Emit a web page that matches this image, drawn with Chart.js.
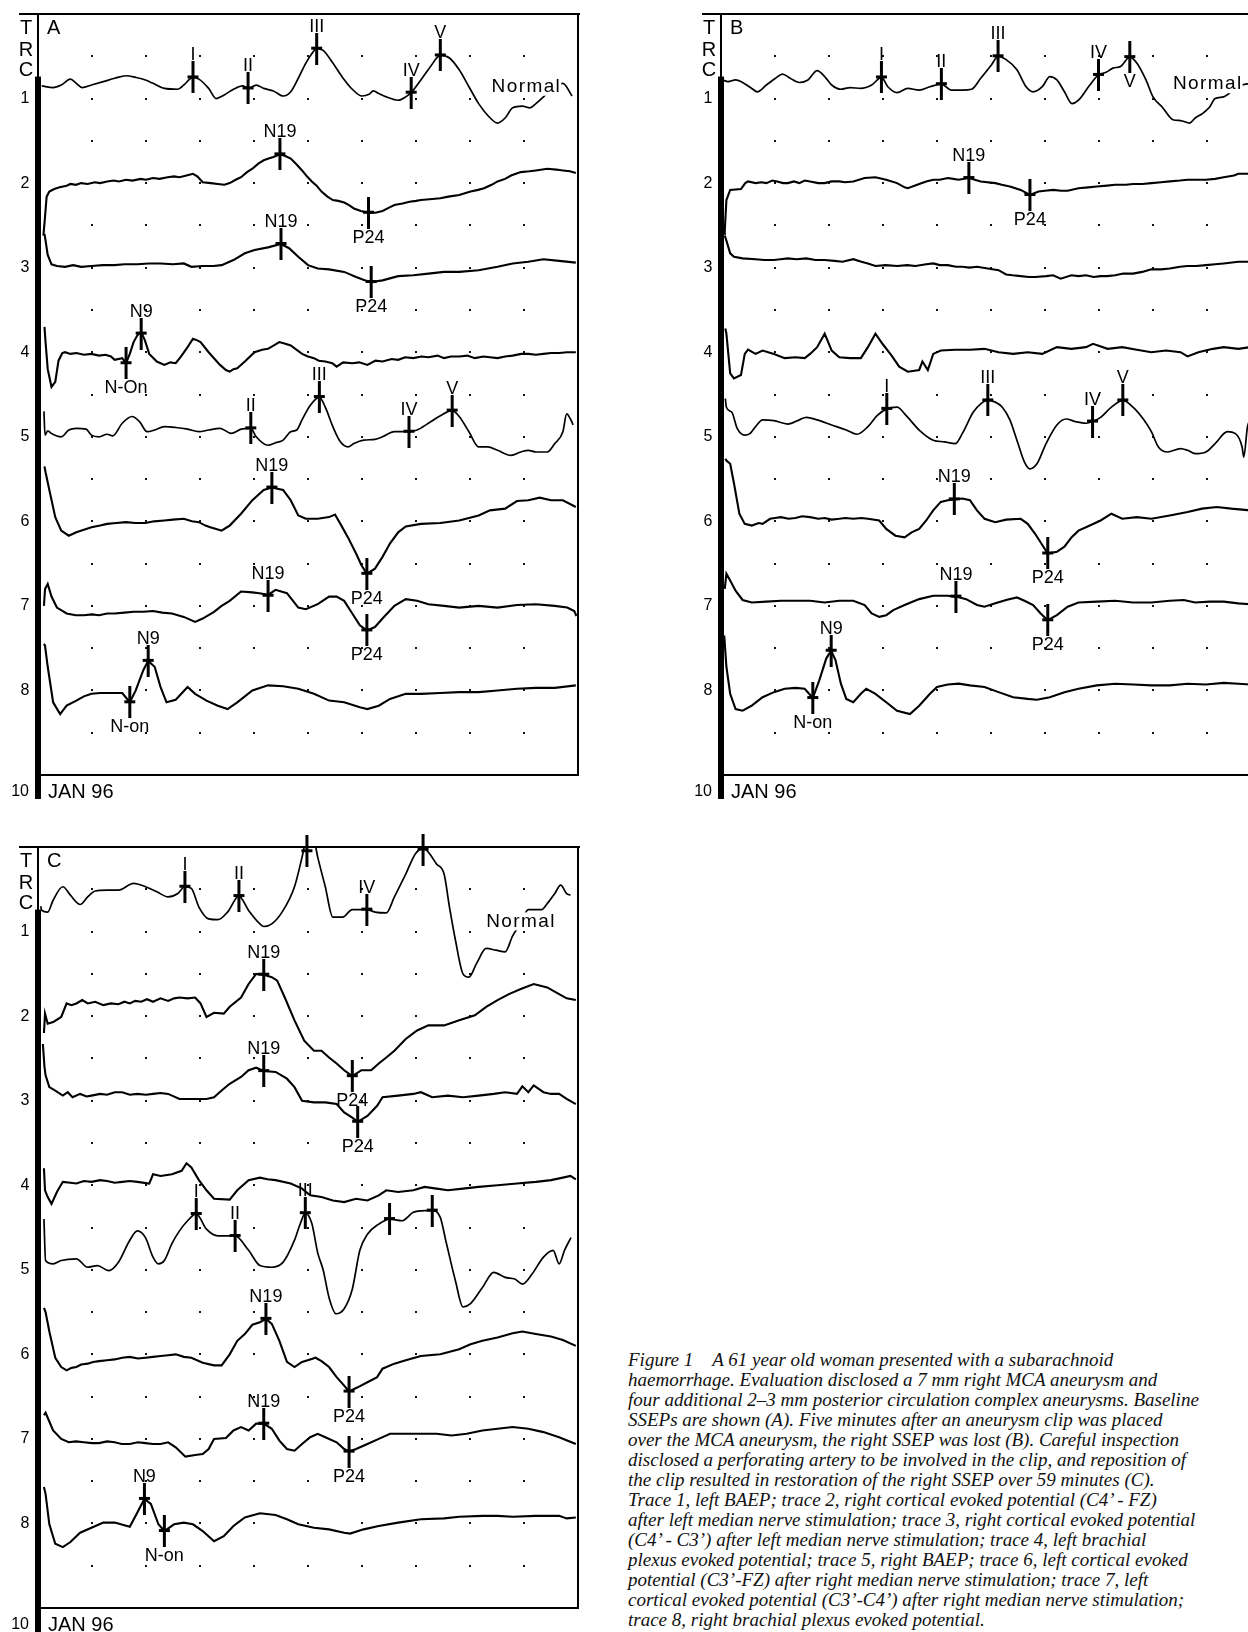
<!DOCTYPE html>
<html><head><meta charset="utf-8">
<script src="https://cdn.jsdelivr.net/npm/chart.js@4/dist/chart.umd.min.js"></script>
<style>
html,body{margin:0;padding:0;background:#fff;width:1248px;height:1632px;overflow:hidden;position:relative}
canvas{position:absolute}
#caption{position:absolute;left:628px;top:1350px;font-family:"Liberation Serif","DejaVu Serif",serif;font-style:italic;font-size:19px;line-height:20px;color:#111;white-space:nowrap}
</style></head><body>
<canvas id="cA" width="600" height="820" style="left:0;top:0"></canvas>
<canvas id="cB" width="600" height="820" style="left:683px;top:0"></canvas>
<canvas id="cC" width="600" height="799" style="left:0;top:833px"></canvas>
<div id="caption">Figure 1&emsp;A 61 year old woman presented with a subarachnoid<br>haemorrhage. Evaluation disclosed a 7 mm right MCA aneurysm and<br>four additional 2–3 mm posterior circulation complex aneurysms. Baseline<br>SSEPs are shown (A). Five minutes after an aneurysm clip was placed<br>over the MCA aneurysm, the right SSEP was lost (B). Careful inspection<br>disclosed a perforating artery to be involved in the clip, and reposition of<br>the clip resulted in restoration of the right SSEP over 59 minutes (C).<br>Trace 1, left BAEP; trace 2, right cortical evoked potential (C4’ - FZ)<br>after left median nerve stimulation; trace 3, right cortical evoked potential<br>(C4’ - C3’) after left median nerve stimulation; trace 4, left brachial<br>plexus evoked potential; trace 5, right BAEP; trace 6, left cortical evoked<br>potential (C3’-FZ) after right median nerve stimulation; trace 7, left<br>cortical evoked potential (C3’-C4’) after right median nerve stimulation;<br>trace 8, right brachial plexus evoked potential.</div>
<script>
// ---- grid / tick labels ----
const gridCols = [1,2,3,4,5,6,7,8,9];
const gridRows = [0.5,1,1.5,2,2.5,3,3.5,4,4.5,5,5.5,6,6.5,7,7.5,8,8.5];
const traceNumbers = ['1','2','3','4','5','6','7','8'];
const headerLetters = ['T','R','C'];
const panelLetters = ['A','B','C'];
const dateLabel = ['10','JAN 96'];

// ---- panel A traces: [time division, row position] ----
const traceA1 = [[0.07,0.85],[0.28,0.87],[0.43,0.84],[0.60,0.77],[0.71,0.82],[0.82,0.87],[0.99,0.84],[1.21,0.80],[1.42,0.76],[1.63,0.73],[1.81,0.75],[1.99,0.78],[2.13,0.82],[2.34,0.88],[2.59,0.89],[2.70,0.84],[2.87,0.75],[2.98,0.77],[3.16,0.88],[3.30,1.00],[3.44,0.96],[3.62,0.89],[3.79,0.85],[3.90,0.88],[4.04,0.84],[4.18,0.88],[4.36,0.91],[4.54,0.97],[4.68,0.92],[4.82,0.76],[4.96,0.58],[5.07,0.47],[5.16,0.41],[5.28,0.43],[5.46,0.58],[5.64,0.75],[5.82,0.89],[6.00,0.97],[6.13,0.95],[6.21,0.91],[6.31,0.94],[6.45,0.98],[6.67,1.02],[6.81,0.98],[6.91,0.93],[7.09,0.78],[7.27,0.62],[7.45,0.49],[7.62,0.52],[7.80,0.66],[7.98,0.86],[8.16,1.06],[8.33,1.20],[8.51,1.29],[8.65,1.23],[8.79,1.11],[8.97,1.09],[9.11,1.11],[9.22,1.06],[9.36,0.98],[9.50,0.89],[9.72,0.82],[9.89,0.97]];
const traceA2 = [[0.10,2.62],[0.13,2.40],[0.16,2.16],[0.21,2.10],[0.30,2.07],[0.40,2.05],[0.53,2.03],[0.60,2.01],[0.70,2.02],[0.80,2.00],[0.92,2.01],[1.05,1.99],[1.15,2.00],[1.28,1.98],[1.40,1.97],[1.50,1.98],[1.63,1.96],[1.75,1.97],[1.90,1.95],[2.00,1.96],[2.13,1.94],[2.25,1.95],[2.40,1.93],[2.52,1.92],[2.62,1.93],[2.75,1.91],[2.87,1.89],[2.95,1.92],[3.05,1.99],[3.20,2.00],[3.33,2.01],[3.45,2.02],[3.55,2.00],[3.66,1.96],[3.76,1.93],[3.87,1.87],[3.97,1.83],[4.08,1.77],[4.18,1.73],[4.27,1.71],[4.36,1.69],[4.48,1.66],[4.58,1.68],[4.68,1.71],[4.79,1.78],[4.89,1.85],[4.98,1.92],[5.07,1.98],[5.16,2.03],[5.25,2.10],[5.36,2.16],[5.46,2.20],[5.56,2.21],[5.67,2.23],[5.76,2.26],[5.85,2.30],[5.98,2.33],[6.12,2.35],[6.25,2.35],[6.38,2.33],[6.50,2.29],[6.60,2.26],[6.75,2.24],[6.88,2.22],[7.00,2.21],[7.09,2.20],[7.25,2.19],[7.45,2.18],[7.60,2.16],[7.80,2.14],[8.01,2.10],[8.15,2.08],[8.26,2.06],[8.40,2.02],[8.51,1.98],[8.65,1.95],[8.76,1.91],[8.94,1.87],[9.10,1.86],[9.22,1.85],[9.43,1.83],[9.60,1.84],[9.72,1.85],[9.85,1.86],[9.96,1.88]];
const traceA3 = [[0.12,2.60],[0.14,2.68],[0.18,2.85],[0.25,2.96],[0.35,2.98],[0.50,2.99],[0.65,2.97],[0.80,2.99],[0.99,2.98],[1.20,2.97],[1.42,2.97],[1.60,2.96],[1.84,2.96],[2.05,2.95],[2.27,2.95],[2.50,2.96],[2.70,2.95],[2.84,2.99],[3.05,2.98],[3.25,2.98],[3.40,2.97],[3.62,2.91],[3.83,2.83],[4.01,2.79],[4.26,2.76],[4.50,2.72],[4.65,2.77],[4.82,2.87],[5.00,2.97],[5.18,3.01],[5.39,3.02],[5.67,3.05],[5.89,3.11],[6.05,3.15],[6.17,3.17],[6.38,3.15],[6.67,3.10],[6.95,3.09],[7.23,3.07],[7.52,3.05],[7.80,3.05],[8.16,3.03],[8.51,2.99],[8.79,2.95],[9.08,2.93],[9.36,2.90],[9.65,2.92],[9.96,2.94]];
const traceA4 = [[0.12,3.70],[0.14,3.88],[0.18,4.20],[0.25,4.41],[0.32,4.35],[0.38,4.10],[0.45,4.01],[0.50,4.00],[0.60,4.02],[0.71,4.01],[0.85,4.03],[0.99,4.02],[1.13,4.04],[1.25,4.03],[1.35,4.05],[1.42,4.09],[1.56,4.07],[1.63,4.13],[1.70,4.02],[1.77,3.88],[1.84,3.80],[1.91,3.76],[1.98,3.86],[2.06,4.02],[2.20,4.11],[2.34,4.15],[2.45,4.12],[2.55,4.13],[2.65,4.05],[2.77,3.94],[2.87,3.84],[2.95,3.86],[3.01,3.88],[3.16,4.00],[3.37,4.15],[3.48,4.21],[3.55,4.23],[3.62,4.20],[3.69,4.19],[3.83,4.11],[4.01,4.00],[4.15,3.97],[4.26,3.96],[4.47,3.88],[4.58,3.90],[4.68,3.92],[4.89,4.02],[5.00,4.05],[5.11,4.07],[5.20,4.10],[5.32,4.11],[5.45,4.13],[5.53,4.17],[5.65,4.12],[5.82,4.13],[5.95,4.12],[6.10,4.15],[6.25,4.10],[6.38,4.11],[6.55,4.08],[6.67,4.09],[6.80,4.06],[6.95,4.07],[7.10,4.05],[7.23,4.06],[7.40,4.04],[7.52,4.07],[7.65,4.05],[7.80,4.05],[7.95,4.04],[8.09,4.07],[8.25,4.05],[8.37,4.06],[8.51,4.07],[8.65,4.05],[8.79,4.04],[8.95,4.02],[9.08,4.02],[9.22,4.03],[9.36,4.02],[9.50,4.01],[9.65,4.01],[9.80,4.00],[9.96,4.00]];
const traceA5 = [[0.11,4.70],[0.13,4.98],[0.18,4.93],[0.25,4.96],[0.35,4.99],[0.43,5.00],[0.57,4.92],[0.71,4.90],[0.89,4.91],[0.99,4.98],[1.13,5.00],[1.28,4.97],[1.38,4.99],[1.56,4.84],[1.74,4.76],[1.88,4.82],[2.02,4.94],[2.16,4.92],[2.34,4.88],[2.55,4.89],[2.77,4.91],[2.98,4.94],[3.16,4.92],[3.37,4.90],[3.58,4.96],[3.76,4.91],[3.94,4.90],[4.04,5.00],[4.26,5.10],[4.40,5.07],[4.54,5.04],[4.68,4.94],[4.79,4.92],[4.89,4.80],[5.04,4.63],[5.21,4.53],[5.32,4.65],[5.46,4.88],[5.60,5.06],[5.74,5.12],[5.85,5.08],[6.03,5.04],[6.24,5.03],[6.38,5.00],[6.60,4.94],[6.87,4.94],[7.02,4.92],[7.23,4.84],[7.45,4.75],[7.67,4.69],[7.80,4.76],[7.98,4.94],[8.16,5.12],[8.33,5.12],[8.51,5.16],[8.76,5.22],[8.94,5.18],[9.08,5.16],[9.22,5.18],[9.43,5.18],[9.57,5.08],[9.72,4.94],[9.79,4.73],[9.86,4.79],[9.91,4.86]];
const traceA6 = [[0.12,5.35],[0.14,5.42],[0.21,5.63],[0.32,5.95],[0.43,6.11],[0.57,6.17],[0.71,6.13],[0.85,6.10],[0.99,6.07],[1.15,6.05],[1.28,6.03],[1.45,6.02],[1.63,6.01],[1.80,6.02],[1.99,6.02],[2.15,6.00],[2.34,5.99],[2.50,5.98],[2.70,5.97],[2.85,6.00],[2.98,6.01],[3.10,6.05],[3.19,6.07],[3.30,6.09],[3.40,6.11],[3.50,6.07],[3.55,6.05],[3.76,5.91],[3.97,5.75],[4.18,5.63],[4.33,5.60],[4.54,5.63],[4.68,5.75],[4.82,5.93],[4.96,5.97],[5.18,5.97],[5.39,5.95],[5.50,5.92],[5.60,6.03],[5.74,6.19],[5.89,6.38],[5.99,6.52],[6.09,6.62],[6.24,6.56],[6.38,6.42],[6.52,6.26],[6.67,6.13],[6.81,6.06],[7.09,6.03],[7.45,6.02],[7.80,5.99],[8.16,5.93],[8.37,5.87],[8.65,5.85],[8.87,5.76],[9.08,5.75],[9.29,5.72],[9.50,5.75],[9.72,5.75],[9.96,5.83]];
const traceA7 = [[0.11,7.00],[0.13,6.80],[0.18,6.74],[0.25,6.89],[0.35,7.02],[0.53,7.09],[0.70,7.11],[0.85,7.11],[1.00,7.10],[1.13,7.11],[1.28,7.09],[1.42,7.09],[1.60,7.08],[1.77,7.07],[1.95,7.07],[2.13,7.06],[2.30,7.08],[2.48,7.09],[2.70,7.13],[2.91,7.19],[3.05,7.15],[3.26,7.07],[3.40,7.00],[3.55,6.94],[3.76,6.83],[3.97,6.84],[4.10,6.85],[4.26,6.87],[4.40,6.81],[4.61,6.85],[4.82,7.02],[4.96,7.04],[5.18,6.98],[5.39,6.89],[5.53,6.89],[5.67,6.94],[5.82,7.09],[5.96,7.23],[6.09,7.29],[6.24,7.25],[6.38,7.15],[6.60,7.00],[6.81,6.92],[7.02,6.94],[7.23,6.98],[7.52,7.00],[7.80,7.02],[8.16,7.00],[8.51,7.02],[8.87,6.99],[9.22,6.98],[9.57,7.00],[9.80,7.02],[9.93,7.06],[9.97,7.12]];
const traceA8 = [[0.11,7.45],[0.13,7.47],[0.18,7.72],[0.28,8.14],[0.41,8.28],[0.53,8.18],[0.71,8.12],[0.85,8.07],[0.99,8.04],[1.15,8.03],[1.28,8.03],[1.45,8.03],[1.56,8.03],[1.70,8.14],[1.81,8.00],[1.95,7.76],[2.04,7.65],[2.16,7.72],[2.27,7.96],[2.38,8.14],[2.55,8.11],[2.77,7.96],[2.91,8.04],[3.12,8.12],[3.33,8.18],[3.51,8.22],[3.69,8.14],[3.97,8.00],[4.26,7.94],[4.54,7.95],[4.82,7.98],[5.11,8.04],[5.39,8.12],[5.67,8.14],[5.96,8.20],[6.10,8.22],[6.31,8.18],[6.52,8.10],[6.81,8.04],[7.09,8.04],[7.45,8.03],[7.80,8.02],[8.16,8.02],[8.51,8.00],[8.87,7.98],[9.22,7.97],[9.57,7.97],[9.96,7.94]];

// ---- panel B traces ----
const traceB1 = [[0.03,0.78],[0.13,0.80],[0.27,0.78],[0.40,0.81],[0.57,0.88],[0.67,0.92],[0.84,0.84],[1.01,0.76],[1.14,0.71],[1.28,0.76],[1.45,0.81],[1.61,0.78],[1.78,0.67],[1.92,0.74],[2.05,0.84],[2.22,0.89],[2.39,0.87],[2.59,0.88],[2.79,0.84],[2.97,0.75],[3.09,0.86],[3.26,0.93],[3.46,0.88],[3.67,0.90],[3.87,0.86],[4.08,0.83],[4.27,0.90],[4.47,0.90],[4.64,0.89],[4.81,0.76],[5.01,0.60],[5.13,0.50],[5.28,0.54],[5.48,0.66],[5.65,0.86],[5.78,0.92],[5.95,0.86],[6.09,0.74],[6.22,0.78],[6.36,0.92],[6.50,1.06],[6.62,1.02],[6.83,0.84],[6.99,0.72],[7.13,0.69],[7.26,0.64],[7.40,0.62],[7.57,0.51],[7.70,0.58],[7.87,0.78],[8.00,0.98],[8.17,1.10],[8.37,1.25],[8.51,1.26],[8.68,1.29],[8.78,1.23],[8.91,1.18],[9.05,1.10],[9.15,1.00],[9.31,0.98],[9.52,0.88],[9.65,0.84],[9.80,0.82]];
const traceB2 = [[0.06,2.60],[0.07,2.56],[0.10,2.20],[0.17,2.08],[0.37,2.07],[0.45,2.00],[0.50,1.98],[0.64,2.00],[0.75,1.99],[0.84,2.00],[0.95,1.97],[1.04,1.98],[1.15,2.00],[1.24,2.00],[1.35,1.98],[1.45,2.00],[1.55,1.97],[1.65,1.98],[1.80,2.00],[1.92,2.00],[2.05,1.98],[2.19,1.98],[2.30,1.99],[2.45,1.98],[2.66,1.94],[2.86,1.93],[3.06,1.96],[3.26,2.00],[3.40,2.05],[3.46,2.06],[3.67,2.01],[3.80,1.98],[3.93,1.96],[4.05,1.96],[4.20,1.94],[4.30,1.95],[4.40,1.96],[4.59,1.94],[4.70,1.96],[4.81,1.98],[5.08,2.00],[5.20,2.02],[5.35,2.04],[5.55,2.08],[5.72,2.14],[5.88,2.10],[6.00,2.09],[6.15,2.08],[6.30,2.09],[6.42,2.09],[6.62,2.06],[6.80,2.05],[6.96,2.04],[7.15,2.03],[7.30,2.02],[7.50,2.02],[7.63,2.01],[7.80,2.01],[7.97,2.00],[8.15,1.99],[8.31,1.98],[8.50,1.97],[8.64,1.96],[8.80,1.96],[8.98,1.96],[9.15,1.95],[9.31,1.93],[9.50,1.91],[9.58,1.89],[9.80,1.89]];
const traceB3 = [[0.07,2.62],[0.10,2.68],[0.17,2.83],[0.24,2.87],[0.40,2.89],[0.64,2.90],[0.80,2.91],[0.98,2.91],[1.10,2.90],[1.24,2.89],[1.40,2.90],[1.58,2.89],[1.75,2.91],[1.92,2.91],[2.10,2.92],[2.25,2.93],[2.45,2.90],[2.60,2.93],[2.72,2.95],[2.86,2.98],[3.05,2.97],[3.26,2.98],[3.45,2.97],[3.60,2.98],[3.80,2.96],[3.93,2.95],[4.05,2.97],[4.20,2.97],[4.35,2.99],[4.47,2.99],[4.60,3.00],[4.74,2.99],[4.94,3.01],[5.14,3.03],[5.28,3.08],[5.40,3.09],[5.55,3.10],[5.70,3.11],[5.82,3.11],[6.02,3.10],[6.15,3.09],[6.29,3.13],[6.49,3.09],[6.62,3.10],[6.76,3.09],[6.90,3.11],[7.03,3.10],[7.15,3.10],[7.30,3.09],[7.45,3.07],[7.63,3.07],[7.80,3.05],[7.97,3.02],[8.15,3.02],[8.31,3.01],[8.50,2.99],[8.64,2.98],[8.80,2.98],[8.98,2.97],[9.15,2.96],[9.31,2.95],[9.58,2.93],[9.80,2.93]];
const traceB4 = [[0.08,3.72],[0.10,3.78],[0.17,4.25],[0.24,4.31],[0.37,4.27],[0.44,4.02],[0.50,3.97],[0.64,4.02],[0.77,3.98],[0.98,4.02],[1.18,4.07],[1.38,4.06],[1.55,4.07],[1.65,4.02],[1.78,3.94],[1.92,3.78],[2.05,3.98],[2.19,4.06],[2.39,4.07],[2.59,4.07],[2.72,3.94],[2.86,3.78],[2.99,3.90],[3.16,4.04],[3.30,4.17],[3.46,4.23],[3.67,4.21],[3.73,4.11],[3.83,4.21],[3.93,4.02],[4.07,3.98],[4.34,3.97],[4.61,3.97],[4.88,3.96],[5.14,4.00],[5.41,4.02],[5.68,4.00],[5.95,4.02],[6.22,3.94],[6.49,3.96],[6.76,3.94],[6.89,3.90],[7.16,3.96],[7.43,3.94],[7.70,3.97],[7.97,4.00],[8.24,3.98],[8.51,4.00],[8.64,4.05],[8.84,4.00],[9.11,3.96],[9.31,3.94],[9.58,3.96],[9.80,3.94]];
const traceB5 = [[0.08,4.55],[0.10,4.65],[0.20,4.71],[0.30,4.90],[0.44,4.98],[0.54,4.96],[0.64,4.88],[0.77,4.80],[0.98,4.81],[1.24,4.85],[1.45,4.80],[1.58,4.77],[1.78,4.80],[2.05,4.86],[2.32,4.92],[2.52,4.97],[2.72,4.88],[2.89,4.75],[3.07,4.67],[3.26,4.65],[3.43,4.75],[3.67,4.92],[3.93,5.04],[4.14,5.06],[4.34,5.08],[4.47,4.96],[4.67,4.71],[4.81,4.61],[4.94,4.57],[5.08,4.59],[5.21,4.65],[5.35,4.80],[5.48,5.04],[5.62,5.30],[5.72,5.38],[5.85,5.32],[6.02,5.08],[6.22,4.86],[6.39,4.79],[6.56,4.82],[6.76,4.84],[6.88,4.82],[7.03,4.77],[7.23,4.65],[7.44,4.57],[7.63,4.65],[7.83,4.80],[7.97,4.94],[8.10,5.12],[8.27,5.18],[8.51,5.14],[8.64,5.16],[8.78,5.20],[8.98,5.18],[9.15,5.08],[9.38,4.94],[9.52,4.96],[9.65,5.12],[9.68,5.24],[9.75,4.88],[9.80,4.80]];
const traceB6 = [[0.08,5.26],[0.10,5.28],[0.17,5.32],[0.24,5.55],[0.34,5.91],[0.44,6.03],[0.57,6.05],[0.70,6.02],[0.77,6.03],[0.91,5.97],[1.00,5.96],[1.11,5.95],[1.25,5.97],[1.38,5.96],[1.50,5.94],[1.65,5.95],[1.80,5.97],[1.92,5.96],[2.05,5.98],[2.19,5.97],[2.30,5.96],[2.45,5.97],[2.60,5.96],[2.72,5.97],[2.93,5.99],[3.06,6.09],[3.23,6.17],[3.40,6.19],[3.53,6.13],[3.67,6.09],[3.80,5.99],[3.93,5.87],[4.07,5.77],[4.20,5.75],[4.32,5.74],[4.47,5.73],[4.61,5.75],[4.74,5.87],[4.88,5.97],[5.08,6.01],[5.28,5.98],[5.55,5.97],[5.68,6.03],[5.82,6.15],[5.95,6.28],[6.05,6.38],[6.22,6.36],[6.36,6.30],[6.49,6.19],[6.62,6.11],[6.83,6.05],[7.03,5.99],[7.23,5.91],[7.43,5.97],[7.70,5.95],[7.97,5.97],[8.31,5.93],[8.64,5.89],[8.91,5.85],[9.18,5.83],[9.45,5.85],[9.80,5.87]];
const traceB7 = [[0.07,6.80],[0.10,6.62],[0.17,6.70],[0.27,6.82],[0.40,6.93],[0.57,6.96],[0.84,6.95],[1.11,6.94],[1.38,6.94],[1.65,6.94],[1.92,6.96],[2.19,6.94],[2.45,6.94],[2.66,6.99],[2.79,7.09],[2.93,7.13],[3.06,7.11],[3.19,7.05],[3.40,6.99],[3.67,6.92],[3.93,6.88],[4.20,6.88],[4.35,6.89],[4.54,6.92],[4.74,6.99],[4.88,7.01],[5.08,6.97],[5.28,6.93],[5.48,6.90],[5.62,6.94],[5.78,6.99],[5.92,7.09],[6.05,7.17],[6.22,7.11],[6.42,7.01],[6.62,6.96],[6.96,6.95],[7.30,6.94],[7.63,6.96],[7.97,6.96],[8.31,6.94],[8.57,6.93],[8.78,6.96],[9.05,6.95],[9.31,6.95],[9.58,6.97],[9.80,6.98]];
const traceB8 = [[0.06,7.35],[0.07,7.35],[0.10,7.72],[0.17,8.04],[0.27,8.22],[0.40,8.24],[0.57,8.18],[0.77,8.08],[0.98,8.02],[1.18,7.98],[1.38,7.97],[1.55,7.98],[1.70,8.09],[1.82,7.88],[1.95,7.62],[2.04,7.53],[2.12,7.64],[2.22,7.92],[2.32,8.10],[2.45,8.14],[2.59,8.04],[2.69,7.98],[2.86,8.04],[3.06,8.14],[3.26,8.24],[3.50,8.28],[3.67,8.18],[3.87,8.04],[4.00,7.96],[4.20,7.93],[4.40,7.92],[4.61,7.94],[4.88,7.96],[5.14,8.02],[5.41,8.08],[5.68,8.10],[5.85,8.11],[6.09,8.08],[6.36,8.02],[6.62,7.98],[6.96,7.94],[7.30,7.92],[7.63,7.93],[7.97,7.94],[8.31,7.94],[8.64,7.92],[8.98,7.93],[9.31,7.91],[9.58,7.92],[9.80,7.93]];

// ---- panel C traces ----
const traceC1 = [[0.05,0.70],[0.07,0.75],[0.18,0.77],[0.28,0.63],[0.46,0.47],[0.60,0.57],[0.78,0.68],[0.92,0.59],[1.06,0.52],[1.28,0.51],[1.49,0.51],[1.77,0.43],[1.99,0.47],[2.20,0.53],[2.41,0.59],[2.59,0.55],[2.72,0.47],[2.84,0.49],[2.98,0.71],[3.16,0.85],[3.33,0.86],[3.51,0.77],[3.72,0.58],[3.90,0.75],[4.11,0.91],[4.18,0.94],[4.33,0.91],[4.54,0.75],[4.75,0.47],[4.89,0.12],[4.96,-0.08],[5.00,-0.12],[5.11,-0.08],[5.18,0.12],[5.32,0.47],[5.46,0.83],[5.64,0.83],[5.82,0.74],[5.96,0.74],[6.09,0.74],[6.24,0.77],[6.45,0.78],[6.60,0.59],[6.81,0.32],[6.99,0.08],[7.13,0.02],[7.20,0.04],[7.38,0.20],[7.52,0.32],[7.62,0.71],[7.73,1.10],[7.87,1.50],[7.98,1.54],[8.12,1.38],[8.30,1.20],[8.48,1.22],[8.65,1.24],[8.79,1.05],[8.94,0.90],[9.08,0.74],[9.33,0.74],[9.43,0.67],[9.57,0.55],[9.68,0.45],[9.79,0.55],[9.86,0.57]];
const traceC2 = [[0.11,2.20],[0.13,1.97],[0.18,2.09],[0.28,2.07],[0.43,2.01],[0.53,1.85],[0.62,1.87],[0.71,1.85],[0.82,1.81],[0.92,1.85],[1.06,1.83],[1.21,1.87],[1.35,1.85],[1.49,1.86],[1.60,1.83],[1.70,1.85],[1.80,1.82],[1.91,1.83],[2.02,1.80],[2.13,1.83],[2.27,1.79],[2.41,1.82],[2.52,1.79],[2.62,1.78],[2.77,1.79],[2.91,1.78],[3.01,1.85],[3.12,2.01],[3.26,1.96],[3.44,1.97],[3.55,1.89],[3.76,1.78],[3.90,1.62],[4.04,1.50],[4.18,1.51],[4.33,1.54],[4.43,1.58],[4.57,1.78],[4.75,2.05],[4.93,2.29],[5.11,2.41],[5.25,2.41],[5.39,2.49],[5.53,2.56],[5.67,2.64],[5.82,2.71],[5.99,2.64],[6.17,2.64],[6.31,2.56],[6.45,2.49],[6.60,2.41],[6.81,2.27],[7.02,2.17],[7.23,2.11],[7.52,2.11],[7.80,2.05],[8.09,1.99],[8.30,1.89],[8.51,1.81],[8.72,1.74],[8.94,1.68],[9.18,1.62],[9.43,1.66],[9.65,1.74],[9.79,1.79],[9.96,1.81]];
const traceC3 = [[0.09,2.33],[0.12,2.60],[0.14,2.70],[0.21,2.84],[0.32,2.88],[0.46,2.94],[0.55,2.90],[0.64,2.96],[0.78,2.92],[0.90,2.95],[0.99,2.94],[1.15,2.92],[1.28,2.93],[1.42,2.90],[1.56,2.90],[1.70,2.93],[1.84,2.92],[2.00,2.93],[2.13,2.92],[2.27,2.91],[2.41,2.92],[2.62,2.98],[2.84,2.98],[3.12,2.98],[3.26,2.96],[3.40,2.88],[3.55,2.80],[3.76,2.72],[3.90,2.64],[4.04,2.61],[4.18,2.65],[4.40,2.66],[4.61,2.74],[4.75,2.84],[4.89,3.00],[5.11,3.02],[5.32,3.02],[5.53,3.04],[5.67,3.14],[5.82,3.20],[5.92,3.25],[6.10,3.18],[6.28,3.06],[6.38,2.96],[6.67,2.94],[6.95,2.92],[7.09,2.90],[7.30,2.96],[7.59,2.94],[7.87,2.96],[8.16,2.94],[8.44,2.92],[8.65,2.90],[8.87,2.92],[8.97,2.83],[9.08,2.90],[9.18,2.82],[9.36,2.90],[9.50,2.92],[9.65,2.92],[9.79,2.98],[9.96,3.04]];
const traceC4 = [[0.11,3.80],[0.13,4.06],[0.18,4.14],[0.25,4.22],[0.35,4.08],[0.46,3.96],[0.60,3.97],[0.71,3.98],[0.85,3.95],[0.99,3.96],[1.15,3.94],[1.28,3.95],[1.42,3.97],[1.56,3.96],[1.70,3.95],[1.84,3.96],[2.06,3.98],[2.13,3.87],[2.27,3.89],[2.48,3.87],[2.66,3.83],[2.75,3.74],[2.84,3.79],[2.98,3.94],[3.12,4.06],[3.26,4.16],[3.55,4.17],[3.69,4.06],[3.90,3.94],[4.11,3.91],[4.25,3.93],[4.40,3.94],[4.68,3.98],[4.89,4.04],[5.04,4.12],[5.25,4.14],[5.46,4.18],[5.67,4.20],[5.89,4.16],[6.10,4.18],[6.31,4.12],[6.45,4.06],[6.67,4.08],[6.95,4.06],[7.16,4.02],[7.38,4.04],[7.59,4.06],[7.87,4.04],[8.16,4.02],[8.51,4.00],[8.87,3.98],[9.22,3.96],[9.50,3.94],[9.72,3.91],[9.86,3.89],[9.96,3.93]];
const traceC5 = [[0.11,4.40],[0.14,4.89],[0.28,4.93],[0.43,4.89],[0.71,4.87],[0.92,4.97],[1.10,4.95],[1.31,5.01],[1.49,4.91],[1.70,4.65],[1.84,4.54],[1.99,4.62],[2.13,4.85],[2.23,4.93],[2.34,4.89],[2.48,4.69],[2.62,4.54],[2.77,4.42],[2.93,4.34],[3.12,4.52],[3.33,4.60],[3.65,4.60],[3.90,4.77],[4.11,4.95],[4.33,4.97],[4.54,4.91],[4.75,4.65],[4.86,4.45],[4.95,4.33],[5.07,4.45],[5.18,4.80],[5.28,5.00],[5.39,5.33],[5.52,5.52],[5.67,5.46],[5.82,5.23],[5.96,4.77],[6.10,4.58],[6.31,4.46],[6.51,4.40],[6.74,4.42],[6.95,4.32],[7.16,4.30],[7.30,4.30],[7.45,4.38],[7.55,4.65],[7.73,5.13],[7.87,5.44],[8.01,5.40],[8.23,5.21],[8.44,5.03],[8.65,5.09],[8.83,5.11],[8.97,5.17],[9.15,5.05],[9.36,4.85],[9.54,4.77],[9.65,4.93],[9.75,4.77],[9.87,4.62]];
const traceC6 = [[0.11,5.45],[0.14,5.50],[0.21,5.73],[0.32,6.04],[0.43,6.15],[0.53,6.19],[0.62,6.16],[0.71,6.15],[0.80,6.12],[0.92,6.11],[1.02,6.09],[1.13,6.08],[1.28,6.07],[1.42,6.06],[1.56,6.04],[1.70,6.03],[1.85,6.05],[1.99,6.04],[2.13,6.03],[2.27,6.02],[2.41,6.01],[2.55,6.00],[2.70,6.03],[2.84,6.04],[3.05,6.10],[3.26,6.13],[3.40,6.13],[3.55,6.00],[3.69,5.84],[3.83,5.76],[3.97,5.65],[4.11,5.62],[4.22,5.58],[4.33,5.64],[4.47,5.84],[4.61,6.09],[4.75,6.15],[4.89,6.09],[5.04,6.06],[5.14,6.04],[5.25,6.08],[5.39,6.15],[5.53,6.27],[5.67,6.37],[5.76,6.44],[5.92,6.39],[6.10,6.33],[6.28,6.27],[6.38,6.17],[6.60,6.11],[6.81,6.07],[7.09,6.02],[7.45,6.00],[7.80,5.94],[8.01,5.88],[8.23,5.84],[8.51,5.80],[8.79,5.75],[8.97,5.73],[9.22,5.76],[9.50,5.79],[9.72,5.83],[9.96,5.90]];
const traceC7 = [[0.11,6.72],[0.14,6.69],[0.18,6.75],[0.28,6.90],[0.43,7.00],[0.57,7.04],[0.70,7.03],[0.85,7.04],[1.00,7.05],[1.13,7.05],[1.28,7.03],[1.42,7.04],[1.55,7.06],[1.70,7.06],[1.85,7.04],[1.99,7.05],[2.13,7.06],[2.27,7.06],[2.41,7.04],[2.55,7.10],[2.73,7.21],[2.91,7.19],[3.05,7.18],[3.16,7.12],[3.26,7.00],[3.48,6.99],[3.62,6.90],[3.76,6.86],[3.90,6.90],[4.04,6.82],[4.18,6.82],[4.33,6.88],[4.47,7.02],[4.61,7.12],[4.75,7.14],[4.89,7.06],[5.04,6.98],[5.18,6.94],[5.32,6.98],[5.53,7.04],[5.67,7.12],[5.76,7.15],[5.89,7.12],[6.10,7.06],[6.31,7.00],[6.52,6.94],[6.81,6.94],[7.09,6.94],[7.38,6.94],[7.66,6.96],[7.94,6.94],[8.23,6.90],[8.51,6.88],[8.79,6.86],[9.08,6.88],[9.36,6.92],[9.65,6.98],[9.96,7.06]];
const traceC8 = [[0.11,7.57],[0.14,7.65],[0.21,8.01],[0.32,8.24],[0.46,8.28],[0.60,8.22],[0.78,8.11],[0.99,8.05],[1.21,7.99],[1.42,7.99],[1.70,8.04],[1.84,7.87],[1.97,7.71],[2.09,7.77],[2.23,8.01],[2.34,8.09],[2.52,8.01],[2.70,7.99],[2.87,8.01],[3.05,8.09],[3.26,8.21],[3.44,8.15],[3.62,8.03],[3.83,7.93],[4.11,7.88],[4.40,7.90],[4.61,7.95],[4.82,8.01],[5.11,8.05],[5.39,8.07],[5.67,8.11],[5.78,8.12],[6.03,8.07],[6.31,8.03],[6.67,7.99],[7.09,7.95],[7.52,7.94],[7.80,7.92],[8.23,7.91],[8.51,7.91],[8.79,7.92],[9.22,7.91],[9.65,7.91],[9.79,7.94],[9.96,7.93]];

// ---- peak markers: [x, y, label, label side] ----
const markersA = [[2.87,0.75,'I','above'],[3.89,0.88,'II','above'],[5.16,0.41,'III','above'],[6.91,0.93,'IV','above'],[7.45,0.49,'V','above'],
  [4.48,1.66,'N19','above'],[6.12,2.35,'P24','below'],[4.50,2.72,'N19','above'],[6.17,3.17,'P24','below'],
  [1.63,4.13,'N-On','below'],[1.91,3.78,'N9','above'],
  [3.94,4.90,'II','above'],[5.21,4.53,'III','above'],[6.87,4.94,'IV','above'],[7.67,4.69,'V','above'],
  [4.33,5.60,'N19','above'],[6.09,6.62,'P24','below'],[4.26,6.88,'N19','above'],[6.09,7.29,'P24','below'],
  [1.70,8.14,'N-on','below'],[2.04,7.65,'N9','above']];
const markersB = [[2.97,0.75,'I','above'],[4.08,0.83,'II','above'],[5.13,0.50,'III','above'],[6.99,0.72,'IV','above'],[7.57,0.51,'V','below'],
  [4.59,1.94,'N19','above'],[5.72,2.14,'P24','below'],
  [3.07,4.67,'I','above'],[4.94,4.57,'III','above'],[6.88,4.82,'IV','above'],[7.44,4.57,'V','above'],
  [4.32,5.74,'N19','above'],[6.05,6.38,'P24','below'],[4.35,6.89,'N19','above'],[6.05,7.17,'P24','below'],
  [1.70,8.09,'N-on','below'],[2.04,7.53,'N9','above']];
const markersC = [[2.72,0.47,'I','above'],[3.72,0.58,'II','above'],[4.98,0.05,'',''],[6.09,0.74,'IV','above'],[7.13,0.03,'',''],
  [4.18,1.51,'N19','above'],[5.82,2.71,'P24','below'],[4.18,2.65,'N19','above'],[5.92,3.25,'P24','below'],
  [2.93,4.34,'I','above'],[3.65,4.60,'II','above'],[4.95,4.33,'III','above'],[6.51,4.40,'',''],[7.30,4.30,'',''],
  [4.22,5.58,'N19','above'],[5.76,6.44,'P24','below'],[4.18,6.82,'N19','above'],[5.76,7.15,'P24','below'],
  [1.97,7.71,'N9','above'],[2.34,8.09,'N-on','below']];
const normalA = [8.40,0.86];
const normalB = [8.37,0.83];
const normalC = [8.30,0.88];

const FONT = '"Liberation Sans", Arial, sans-serif';

function crossImage(){
  const c=document.createElement('canvas'); c.width=13; c.height=32;
  const g=c.getContext('2d'); g.fillStyle='#000';
  g.fillRect(5,0,3,32); g.fillRect(1,14,11,3);
  return c;
}
const CROSS = crossImage();

const panelPlugin = {
  id:'panel',
  beforeDatasetsDraw(chart, args, o){
    const {ctx, scales:{x,y}} = chart;
    ctx.save(); ctx.fillStyle='#111';
    for (const gy of gridRows) for (const gx of gridCols) {
      ctx.fillRect(Math.round(x.getPixelForValue(gx))-1, Math.round(y.getPixelForValue(gy))-1, 2, 2);
    }
    ctx.restore();
  },
  afterDatasetsDraw(chart, args, o){
    const {ctx, chartArea:a, scales:{x,y}} = chart;
    ctx.save();
    ctx.fillStyle='#000'; ctx.strokeStyle='#000';
    // Normal label
    ctx.font='19px '+FONT; ctx.textBaseline='middle'; ctx.textAlign='left';
    try { ctx.letterSpacing='1.4px'; } catch(e) {}
    const nx=x.getPixelForValue(o.normal[0]), ny=y.getPixelForValue(o.normal[1]);
    const nw=ctx.measureText('Normal').width;
    ctx.fillStyle='#fff'; ctx.fillRect(nx-1, ny-9, nw+1, 18);
    ctx.fillStyle='#000'; ctx.fillText('Normal', nx, ny);
    try { ctx.letterSpacing='0px'; } catch(e) {}
    // peak labels
    ctx.font='18px '+FONT; ctx.textAlign='center'; ctx.textBaseline='alphabetic';
    for (const m of o.markers){
      if(!m[2]) continue;
      const px=x.getPixelForValue(m[0]), py=y.getPixelForValue(m[1]);
      if(m[3]==='above') ctx.fillText(m[2], px, py-17);
      else ctx.fillText(m[2], px, py+30);
    }
    // frame
    ctx.lineWidth=2;
    ctx.beginPath();
    ctx.moveTo(a.left-19, a.top); ctx.lineTo(a.right+2, a.top);
    ctx.moveTo(a.right, a.top); ctx.lineTo(a.right, a.bottom);
    ctx.moveTo(a.left, a.bottom); ctx.lineTo(a.right+1, a.bottom);
    ctx.moveTo(a.left, a.top); ctx.lineTo(a.left, a.bottom);
    ctx.stroke();
    const ty=y.getPixelForValue(0.74);
    ctx.fillRect(a.left-3, ty, 6, a.bottom+24-ty);
    // left labels
    ctx.textAlign='center'; ctx.textBaseline='middle';
    ctx.font='20px '+FONT;
    const hy=[0.17,0.43,0.67];
    headerLetters.forEach((t,i)=>ctx.fillText(t, a.left-12, y.getPixelForValue(hy[i])));
    ctx.font='16px '+FONT;
    traceNumbers.forEach((t,i)=>ctx.fillText(t, a.left-13, y.getPixelForValue(i+1)));
    ctx.font='20px '+FONT; ctx.textAlign='left';
    ctx.fillText(o.letter, a.left+9, y.getPixelForValue(0.17));
    // date
    ctx.font='16px '+FONT; ctx.textAlign='right'; ctx.fillText(dateLabel[0], a.left-9, a.bottom+17);
    ctx.font='20px '+FONT; ctx.textAlign='left'; ctx.fillText(dateLabel[1], a.left+10, a.bottom+17);
    ctx.restore();
  }
};

function makePanel(id, traces, markers, letter, normal, pad){
  const ds = traces.map((t,i)=>({
    data: t.map(p=>({x:p[0], y:p[1]})),
    showLine:true, borderColor:'#000', borderWidth:(i===0||i===4)?1.7:2.1,
    pointRadius:0, cubicInterpolationMode:(i===0||i===4)?'monotone':'default', tension:0,
    clip:{left:8, top:0, right:0, bottom:0}
  }));
  ds.push({data: markers.map(m=>({x:m[0], y:m[1]})), showLine:false, pointStyle:CROSS, pointRadius:4, clip:false});
  new Chart(document.getElementById(id), {
    type:'scatter',
    data:{datasets:ds},
    options:{
      responsive:false, animation:false, events:[],
      layout:{padding:pad},
      scales:{ x:{type:'linear', min:0, max:10, display:false}, y:{type:'linear', min:0, max:9, reverse:true, display:false} },
      plugins:{ legend:{display:false}, tooltip:{enabled:false}, panel:{markers, letter, normal} }
    },
    plugins:[panelPlugin]
  });
}

makePanel('cA', [traceA1,traceA2,traceA3,traceA4,traceA5,traceA6,traceA7,traceA8], markersA, panelLetters[0], normalA, {left:38,right:22,top:14,bottom:45});
makePanel('cB', [traceB1,traceB2,traceB3,traceB4,traceB5,traceB6,traceB7,traceB8], markersB, panelLetters[1], normalB, {left:38,right:22,top:14,bottom:45});
makePanel('cC', [traceC1,traceC2,traceC3,traceC4,traceC5,traceC6,traceC7,traceC8], markersC, panelLetters[2], normalC, {left:38,right:22,top:14,bottom:24});
</script>
</body></html>
